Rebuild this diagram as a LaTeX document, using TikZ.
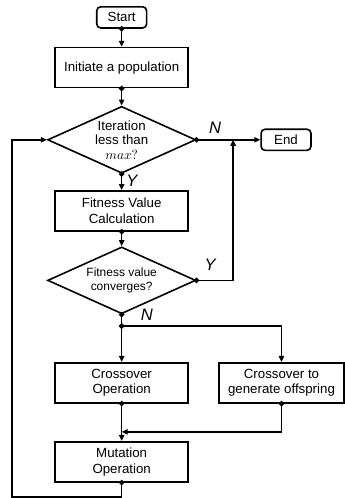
\documentclass[tikz,border=0pt]{standalone}
\usepackage{fontspec}
\setmainfont{Liberation Sans}
\usetikzlibrary{shapes.geometric, arrows.meta}

\begin{document}
\begin{tikzpicture}[
	process/.style={rectangle, draw, line width=1.2pt, minimum width=3.52cm, minimum height=1.06cm, inner sep=0pt, align=center, font=\fontsize{10}{12}\selectfont},
	terminal/.style={rectangle, rounded corners=3pt, draw, line width=1.2pt, minimum width=1.32cm, minimum height=0.56cm, inner sep=0pt, font=\fontsize{10}{12}\selectfont},
	decision/.style={diamond, draw, line width=1.2pt, aspect=2.2, minimum width=3.92cm, minimum height=1.77cm, inner sep=0pt, align=center},
	branch/.style={font=\fontsize{12.5}{14}\selectfont\itshape},
	flow/.style={{Circle[length=4pt]}-{Triangle[length=4.5pt, width=4pt]}, line width=1.1pt, shorten <=-2pt},
	link/.style={{Circle[length=4pt]}-, line width=1.1pt, shorten <=-2pt}
	]
	
	\useasboundingbox (0,0) rectangle (9.13,-13.18);
	
	% Main column
	\node[terminal] (start) at (3.22, -0.46) {Start};
	\node[process] (init) at (3.22, -1.79) {Initiate a population};
	\node[decision, font=\fontsize{10}{11}\selectfont] (iter) at (3.22, -3.70) {Iteration\\less than\\$max?$};
	\node[terminal] (end) at (7.57, -3.70) {End};
	\node[process] (fitcalc) at (3.22, -5.58) {Fitness Value\\Calculation};
	\node[decision, font=\fontsize{9}{10.5}\selectfont] (conv) at (3.22, -7.42) {Fitness value\\converges?};
	
	% Crossover branches
	\node[process] (cross) at (3.22, -10.13) {Crossover\\Operation};
	\node[process, minimum width=3.31cm] (offspring) at (7.45, -10.13) {Crossover to\\generate offspring};
	\node[process] (mut) at (3.22, -12.22) {Mutation\\Operation};
	
	% Junctions
	\coordinate (jn) at (6.17, -3.70);
	\coordinate (split) at (3.22, -8.63);
	\coordinate (merge) at (3.22, -11.43);
	\coordinate (loopbl) at (0.32, -13.15);
	
	% Connections
	\draw[flow] (start.south) -- (init.north);
	\draw[flow] (init.south) -- (iter.north);
	\draw[flow] (iter.east) -- (end.west);
	\draw[flow] (iter.south) -- (fitcalc.north);
	\draw[flow] (fitcalc.south) -- (conv.north);
	\draw[flow] (conv.east) -| (jn);
	\draw[link] (conv.south) -- (split);
	\draw[flow] (split) -- (cross.north);
	\draw[flow] (split) -| (offspring.north);
	\draw[flow] (cross.south) -- (mut.north);
	\draw[flow] (offspring.south) |- (merge);
	\draw[flow] (mut.south) |- (loopbl) |- (iter.west);
	
	% Branch labels
	\node[branch] (nlabel1) at (5.69, -3.39) {N};
	\node[branch] (ylabel1) at (3.49, -4.79) {Y};
	\node[branch] (ylabel2) at (5.56, -7.01) {Y};
	\node[branch] (nlabel2) at (3.89, -8.33) {N};
	
\end{tikzpicture}
\end{document}
